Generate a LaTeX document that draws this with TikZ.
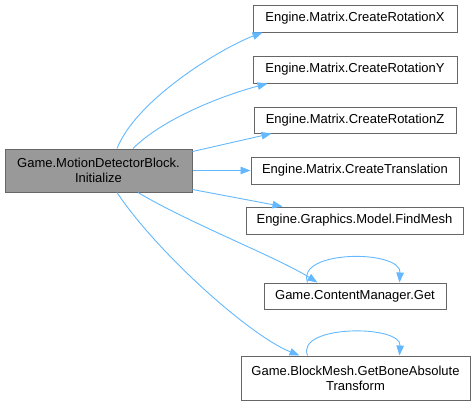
\documentclass[tikz,border=0pt]{standalone}
\usepackage{fontspec}
\setmainfont{Liberation Sans}
\usetikzlibrary{arrows.meta}
\definecolor{edgeblue}{HTML}{63B8FF}
\definecolor{boxborder}{HTML}{666666}
\definecolor{mainfill}{HTML}{999999}
\begin{document}
\begin{tikzpicture}[x=1pt,y=-1pt,
  fnbox/.style={draw=boxborder,line width=1pt,fill=white,inner sep=0pt,align=center,
    font=\fontsize{13}{15}\selectfont},
  mainbox/.style={fnbox,fill=mainfill},
  call/.style={draw=edgeblue,line width=0.9pt,-{Triangle[length=10pt,width=7.5pt]}}]
\useasboundingbox (0,0) rectangle (476,405);
\node[mainbox,minimum width=187pt,minimum height=43pt] (main) at (98.5,170.5) {Game.MotionDetectorBlock.\\Initialize};
\node[fnbox,minimum width=204pt,minimum height=27pt] (X) at (355,18.5) {Engine.Matrix.CreateRotationX};
\node[fnbox,minimum width=204pt,minimum height=27pt] (Y) at (355,69.5) {Engine.Matrix.CreateRotationY};
\node[fnbox,minimum width=202pt,minimum height=26pt] (Z) at (355,120) {Engine.Matrix.CreateRotationZ};
\node[fnbox,minimum width=208pt,minimum height=27pt] (T) at (355,170.5) {Engine.Matrix.CreateTranslation};
\node[fnbox,minimum width=217pt,minimum height=27pt] (F) at (354.5,220.5) {Engine.Graphics.Model.FindMesh};
\node[fnbox,minimum width=182pt,minimum height=26pt] (C) at (355,296) {Game.ContentManager.Get};
\node[fnbox,minimum width=229pt,minimum height=44pt] (G) at (355.5,378) {Game.BlockMesh.GetBoneAbsolute\\Transform};

\draw[call] ([xshift=18.5pt]main.north) .. controls +(20,-50) and +(-40,15) .. ([xshift=10pt]X.south west);
\draw[call] ([xshift=34.5pt]main.north) .. controls +(30,-30) and +(-45,12) .. ([xshift=15pt]Y.south west);
\draw[call] ([yshift=-3pt]main.north east) -- ([xshift=18pt]Z.south west);
\draw[call] (main.east) -- (T.west);
\draw[call] ([yshift=3pt]main.south east) -- ([xshift=37pt]F.north west);
\draw[call] ([xshift=39.5pt]main.south) .. controls +(50,30) and +(-40,-25) .. ([xshift=54pt]C.north west);
\draw[call] ([xshift=18.5pt]main.south) .. controls +(40,60) and +(-50,-20) .. ([xshift=59pt]G.north west);
\draw[call] ([xshift=44pt]C.north west) .. controls +(-12,-33) and +(2,-33) .. ([xshift=136pt]C.north west);
\draw[call] ([xshift=67pt]G.north west) .. controls +(-12,-31) and +(2,-31) .. ([xshift=159pt]G.north west);
\end{tikzpicture}
\end{document}
